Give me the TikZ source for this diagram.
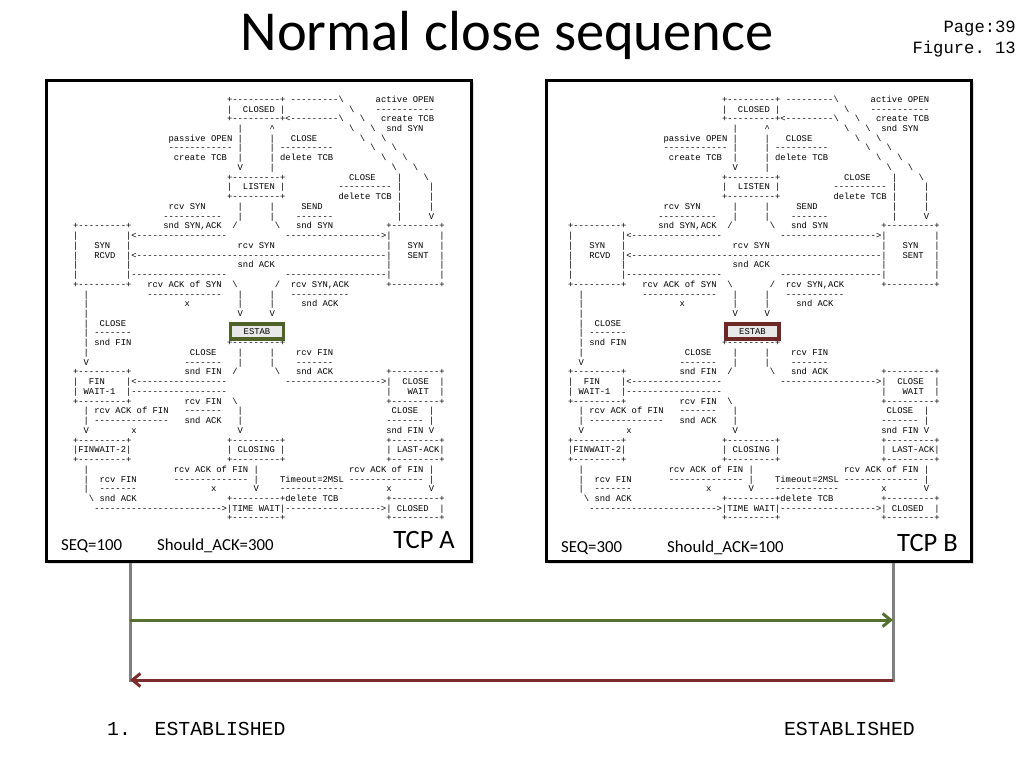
\documentclass[tikz,border=0pt]{standalone}
\usepackage{fontspec}
\setmainfont{Carlito}
\setmonofont{Liberation Mono}
\usepackage{fancyvrb}
\usetikzlibrary{arrows.meta}
\definecolor{estabgreen}{HTML}{4F6228}
\definecolor{estabred}{HTML}{6E2826}
\definecolor{greenarrow}{HTML}{56702F}
\definecolor{redarrow}{HTML}{7B2D2B}
\definecolor{timegray}{HTML}{808080}
\begin{SaveVerbatim}{tcpfsm}
                              +---------+ ---------\      active OPEN
                              |  CLOSED |            \    -----------
                              +---------+<---------\   \   create TCB
                                |     ^              \   \  snd SYN
                   passive OPEN |     |   CLOSE        \   \
                   ------------ |     | ----------       \   \
                    create TCB  |     | delete TCB         \   \
                                V     |                      \   \
                              +---------+            CLOSE    |    \
                              |  LISTEN |          ---------- |     |
                              +---------+          delete TCB |     |
                   rcv SYN      |     |     SEND              |     |
                  -----------   |     |    -------            |     V
 +---------+      snd SYN,ACK  /       \   snd SYN          +---------+
 |         |<-----------------           ------------------>|         |
 |   SYN   |                    rcv SYN                     |   SYN   |
 |   RCVD  |<-----------------------------------------------|   SENT  |
 |         |                    snd ACK                     |         |
 |         |------------------           -------------------|         |
 +---------+   rcv ACK of SYN  \       /  rcv SYN,ACK       +---------+
   |           --------------   |     |   -----------
   |                  x         |     |     snd ACK
   |                            V     V
   |  CLOSE
   | -------
   | snd FIN                  +---------+
   |                   CLOSE    |     |    rcv FIN
   V                  -------   |     |    -------
 +---------+          snd FIN  /       \   snd ACK          +---------+
 |  FIN    |<-----------------           ------------------>|  CLOSE  |
 | WAIT-1  |------------------                              |   WAIT  |
 +---------+          rcv FIN  \                            +---------+
   | rcv ACK of FIN   -------   |                            CLOSE  |
   | --------------   snd ACK   |                           ------- |
   V        x                   V                           snd FIN V
 +---------+                  +---------+                   +---------+
 |FINWAIT-2|                  | CLOSING |                   | LAST-ACK|
 +---------+                  +---------+                   +---------+
   |                rcv ACK of FIN |                 rcv ACK of FIN |
   |  rcv FIN       -------------- |    Timeout=2MSL -------------- |
   |  -------              x       V    ------------        x       V
    \ snd ACK                 +---------+delete TCB         +---------+
     ------------------------>|TIME WAIT|------------------>| CLOSED  |
                              +---------+                   +---------+
\end{SaveVerbatim}
\begin{document}
\begin{tikzpicture}[x=1pt,y=-1pt,
  panel/.style={draw=black,line width=3pt,fill=white,inner sep=0pt,minimum width=425pt,minimum height=481pt},
  panelshadow/.style={fill=black,opacity=0.13,inner sep=0pt,minimum width=426pt,minimum height=482pt},
  fsm/.style={inner sep=0pt,anchor=base west},
  estabbox/.style={line width=3.2pt,fill=black!9,inner sep=0pt,minimum width=53pt,minimum height=15pt,font=\ttfamily\fontsize{8.85pt}{9.7pt}\selectfont},
  lbl/.style={inner sep=0pt,anchor=base west,font=\fontsize{16.8pt}{20pt}\selectfont},
  tcplbl/.style={inner sep=0pt,anchor=base east,font=\fontsize{26.5pt}{30pt}\selectfont},
  pagelbl/.style={inner sep=0pt,anchor=base east,font=\ttfamily\fontsize{17.2pt}{20pt}\selectfont},
  statelbl/.style={inner sep=0pt,font=\ttfamily\fontsize{19.8pt}{24pt}\selectfont},
  timeline/.style={draw=timegray,line width=3pt},
  msg/.style={line width=3pt,-{Straight Barb[length=8pt,width=13pt]}}
]
\useasboundingbox[fill=white] (0,0) rectangle (1024,768);

% title
\node[inner sep=0pt,anchor=base,font=\fontsize{56.5pt}{68pt}\selectfont] (title) at (507,51) {Normal close sequence};
\node[pagelbl] (page) at (1016,33) {Page:39};
\node[pagelbl] (figure) at (1016,53) {Figure. 13};

% timeline coordinates
\coordinate (a1) at (130,620);
\coordinate (b1) at (893,620);
\coordinate (a2) at (130,680);
\coordinate (b2) at (893,680);
\coordinate (aend) at (130,682);
\coordinate (bend) at (893,681.5);

% panels
\node[panelshadow] (shadowA1) at (261,323) {};
\node[panelshadow] (shadowA2) at (260,322) {};
\node[panel] (panelA) at (258.5,320.5) {};
\node[panelshadow] (shadowB1) at (761,323) {};
\node[panelshadow] (shadowB2) at (760,322) {};
\node[panel] (panelB) at (758.5,320.5) {};

\draw[timeline] (aend |- panelA.south) -- (aend);
\draw[timeline] (bend |- panelB.south) -- (bend);

% state diagrams
\node[fsm] (fsmA) at (67.5,102.3) {\BUseVerbatim[baseline=t,fontsize=\fontsize{8.85pt}{9.737pt}\selectfont]{tcpfsm}};
\node[fsm] (fsmB) at (562.5,102.3) {\BUseVerbatim[baseline=t,fontsize=\fontsize{8.85pt}{9.737pt}\selectfont]{tcpfsm}};

\node[estabbox,draw=estabgreen] (estabA) at (257,331.4) {ESTAB};
\node[estabbox,draw=estabred] (estabB) at (752.5,331.4) {ESTAB};

% panel labels
\node[lbl] (seqA) at (61,550.5) {SEQ=100};
\node[lbl] (ackA) at (157,550.5) {Should\_ACK=300};
\node[tcplbl] (tcpA) at (455,548.5) {TCP A};
\node[lbl] (seqB) at (561,552.5) {SEQ=300};
\node[lbl] (ackB) at (667,552) {Should\_ACK=100};
\node[tcplbl] (tcpB) at (958,551.5) {TCP B};

% messages
\draw[msg,draw=greenarrow] (a1) -- (b1);
\draw[msg,draw=redarrow] (b2) -- (a2);

% states
\node[statelbl,anchor=base west] (stateA) at (107,735) {1.\ \ ESTABLISHED};
\node[statelbl,anchor=base east] (stateB) at (915,735) {ESTABLISHED};
\end{tikzpicture}
\end{document}
